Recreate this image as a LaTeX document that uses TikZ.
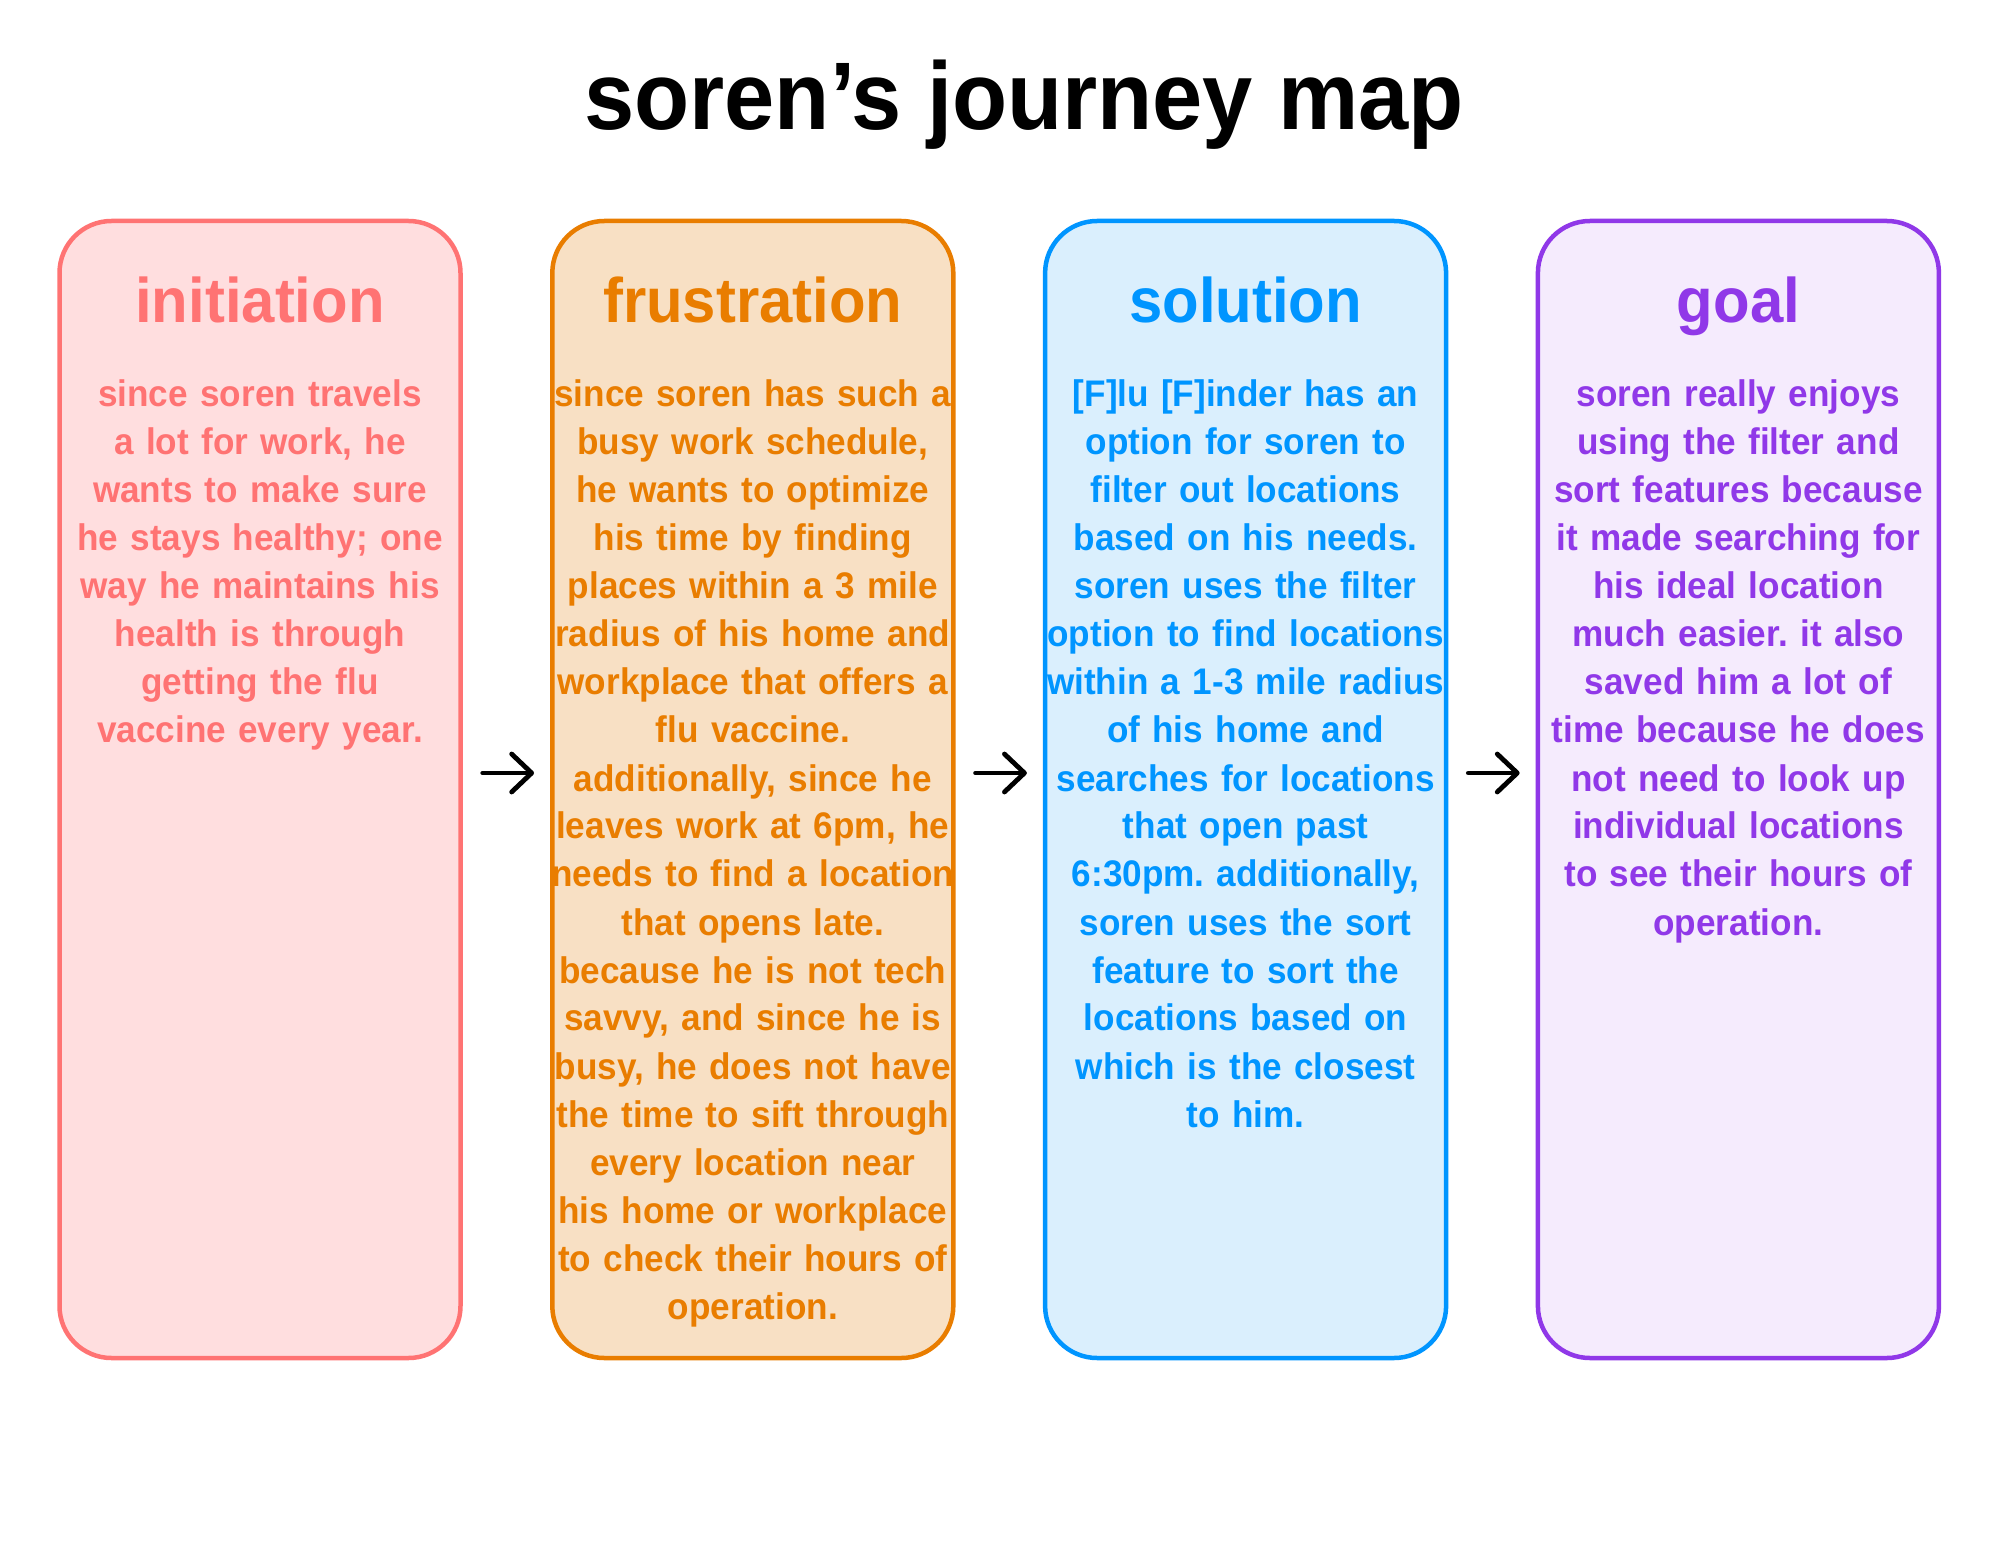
\documentclass[tikz,border=0pt]{standalone}
\usepackage{fontspec}
\setmainfont{Liberation Sans}
\newfontfamily\titlefont[FakeStretch=0.94]{Liberation Sans}
\newfontfamily\cardfont[FakeStretch=0.95]{Liberation Sans}
\usetikzlibrary{arrows.meta}
\frenchspacing

% card palettes: outline/text colour and fill colour
\definecolor{initline}{RGB}{255,115,115}
\definecolor{initfill}{RGB}{255,222,223}
\definecolor{frusline}{RGB}{233,125,0}
\definecolor{frusfill}{RGB}{248,224,196}
\definecolor{soluline}{RGB}{0,149,255}
\definecolor{solufill}{RGB}{218,239,253}
\definecolor{goalline}{RGB}{144,56,232}
\definecolor{goalfill}{RGB}{245,235,253}

\begin{document}
\begin{tikzpicture}[x=0.5pt,y=-0.5pt,
  card/.style={draw=#1line, fill=#1fill, line width=2.25pt, rounded corners=26pt,
    minimum width=200.5pt, minimum height=568.5pt, inner sep=0pt},
  cardhead/.style={text=#1line, anchor=base, inner sep=0pt,
    font=\cardfont\bfseries\fontsize{31.5pt}{36pt}\selectfont},
  cardbody/.style={text=#1line, anchor=base, inner sep=0pt, text width=230pt, align=center,
    font=\cardfont\bfseries\fontsize{18.5pt}{24pt}\selectfont},
  flow/.style={draw=black, line width=2.4pt, line cap=round,
    -{Straight Barb[length=10pt,width=19pt,line cap=round,line join=round]},
    shorten <=10pt, shorten >=8pt}]

\useasboundingbox (0,0) rectangle (2000,1545);
\fill[white] (0,0) rectangle (2000,1545);

% title
\node[anchor=base, inner sep=0pt, font=\titlefont\bfseries\fontsize{48pt}{56pt}\selectfont]
  (title) at (1024,130) {soren’s journey map};

% the four stage cards
\node[card=init] (c1) at (260,789.5) {};
\node[card=frus] (c2) at (752.8,789.5) {};
\node[card=solu] (c3) at (1245.6,789.5) {};
\node[card=goal] (c4) at (1738.4,789.5) {};

% headings
\node[cardhead=init] (h1) at (260,323) {initiation};
\node[cardhead=frus] (h2) at (752.8,323) {frustration};
\node[cardhead=solu] (h3) at (1245.6,323) {solution};
\node[cardhead=goal] (h4) at (1738.4,323) {goal};

% card texts
\node[cardbody=init] (t1) at (260,407) {since soren travels\\
a lot for work, he\\
wants to make sure\\
he stays healthy; one\\
way he maintains his\\
health is through\\
getting the flu\\
vaccine every year.};

\node[cardbody=frus] (t2) at (752.8,407) {since soren has such a\\
busy work schedule,\\
he wants to optimize\\
his time by finding\\
places within a 3 mile\\
radius of his home and\\
workplace that offers a\\
flu vaccine.\\
additionally, since he\\
leaves work at 6pm, he\\
needs to find a location\\
that opens late.\\
because he is not tech\\
savvy, and since he is\\
busy, he does not have\\
the time to sift through\\
every location near\\
his home or workplace\\
to check their hours of\\
operation.};

\node[cardbody=solu] (t3) at (1245.6,407) {[F]lu [F]inder has an\\
option for soren to\\
filter out locations\\
based on his needs.\\
soren uses the filter\\
option to find locations\\
within a 1-3 mile radius\\
of his home and\\
searches for locations\\
that open past\\
6:30pm. additionally,\\
soren uses the sort\\
feature to sort the\\
locations based on\\
which is the closest\\
to him.};

\node[cardbody=goal] (t4) at (1738.4,407) {soren really enjoys\\
using the filter and\\
sort features because\\
it made searching for\\
his ideal location\\
much easier. it also\\
saved him a lot of\\
time because he does\\
not need to look up\\
individual locations\\
to see their hours of\\
operation.};

% arrows between the stages
\draw[flow] ([yshift=8.25pt]c1.east) -- ([yshift=8.25pt]c2.west);
\draw[flow] ([yshift=8.25pt]c2.east) -- ([yshift=8.25pt]c3.west);
\draw[flow] ([yshift=8.25pt]c3.east) -- ([yshift=8.25pt]c4.west);
\end{tikzpicture}
\end{document}
